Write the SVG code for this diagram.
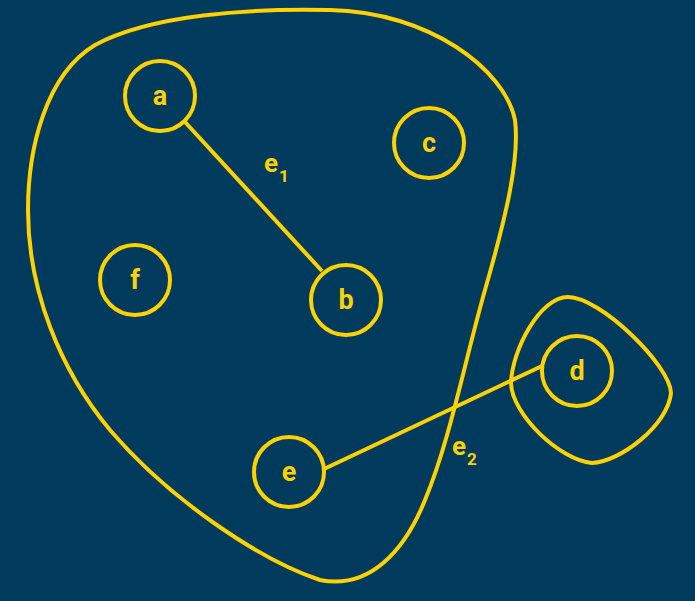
<svg xmlns="http://www.w3.org/2000/svg" width="695" height="601" viewBox="0 0 695 601">
<style>
.hull{fill:none;stroke:#FFD200;stroke-width:4}
.edge{stroke:#FFD200;stroke-width:4;fill:none}
.node circle{fill:none;stroke:#FFD200;stroke-width:4}
.node text,.lbl{fill:#FFD200;font-family:Roboto,"Liberation Sans",sans-serif;font-weight:bold;font-size:27px}
.node text{text-anchor:middle}
.lbl{font-size:26px}
.sub{font-size:17px}
</style>
<rect width="695" height="601" fill="#003A5C"/>
<g id="hulls">
<path class="hull" d="M330,10 C250,8 150,15 95,45 C45,75 28,150 28,210 C28,290 60,370 110,430 C170,500 260,560 320,580 C370,590 405,550 425,500 C450,440 465,360 485,290 C505,220 520,160 515,120 C505,70 430,12 330,10 Z"/>
<path class="hull" d="M568,297 C540,297 512,350 511,383 C512,415 560,460 592,463 C620,462 668,425 671,393 C670,365 600,297 568,297 Z"/>
</g>
<g id="connectors">
<line class="edge" x1="185" y1="122" x2="322" y2="271"/>
<line class="edge" x1="324" y1="469" x2="542" y2="366"/>
<text class="lbl" x="264" y="172">e<tspan class="sub" dx="1" dy="10">1</tspan></text>
<text class="lbl" x="452" y="455">e<tspan class="sub" dx="1" dy="10">2</tspan></text>
</g>
<g id="node-a" class="node"><circle cx="160" cy="96" r="35"/><text x="160" y="105">a</text></g>
<g id="node-c" class="node"><circle cx="429" cy="143" r="35"/><text x="429" y="152">c</text></g>
<g id="node-f" class="node"><circle cx="135" cy="280" r="35"/><text x="135" y="289">f</text></g>
<g id="node-b" class="node"><circle cx="346" cy="300" r="35"/><text x="346" y="309">b</text></g>
<g id="node-d" class="node"><circle cx="577" cy="371" r="35"/><text x="577" y="380">d</text></g>
<g id="node-e" class="node"><circle cx="289" cy="472" r="35"/><text x="289" y="481">e</text></g>
</svg>
